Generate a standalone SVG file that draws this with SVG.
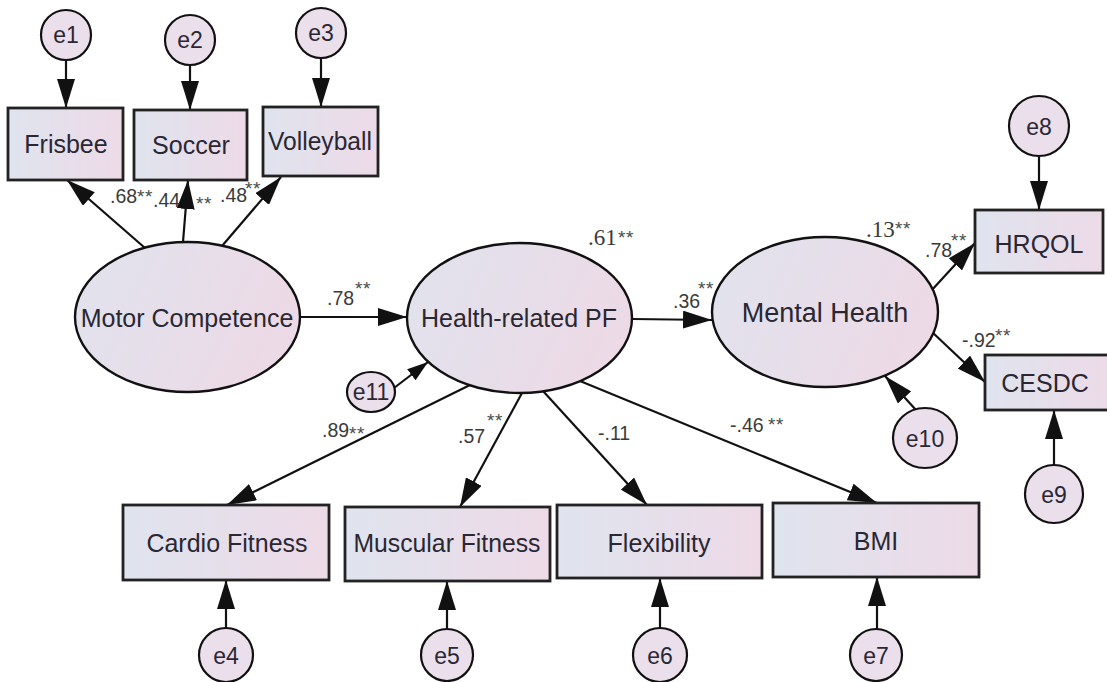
<svg xmlns="http://www.w3.org/2000/svg" width="1107" height="682" viewBox="0 0 1107 682">
<defs>
<linearGradient id="g" x1="0" y1="0" x2="1" y2="0">
<stop offset="0" stop-color="#dfe4ee"/>
<stop offset="1" stop-color="#eddae7"/>
</linearGradient>
<linearGradient id="ge" x1="0" y1="0" x2="1" y2="0.3">
<stop offset="0" stop-color="#e0e3ee"/>
<stop offset="1" stop-color="#ecdae6"/>
</linearGradient>
<marker id="ah" markerUnits="userSpaceOnUse" markerWidth="30" markerHeight="18" refX="29" refY="9" orient="auto">
<path d="M0,0 L29,9 L0,18 z" fill="#111"/>
</marker>
<marker id="ahs" markerUnits="userSpaceOnUse" markerWidth="22" markerHeight="14" refX="21" refY="7" orient="auto">
<path d="M0,0 L21,7 L0,14 z" fill="#111"/>
</marker>
<style>
.box{fill:url(#g);stroke:#222;stroke-width:2.8}
.ell{fill:url(#ge);stroke:#111;stroke-width:2.4}
.err{fill:#ebdfeb;stroke:#111;stroke-width:2.2}
.t{font-family:"Liberation Sans",Arial,sans-serif;font-size:25px;fill:#2a2733;text-anchor:middle}
.tb{font-family:"Liberation Sans",Arial,sans-serif;font-size:27px;fill:#2a2733;text-anchor:middle}
.te{font-family:"Liberation Sans",Arial,sans-serif;font-size:23px;fill:#2a2733;text-anchor:middle}
.c{font-family:"Liberation Sans",Arial,sans-serif;font-size:19.5px;fill:#3a3a3a}
.s{font-family:"Liberation Serif","Times New Roman",serif;font-size:23px;fill:#3a3a3a}
.st{font-family:"Liberation Sans",Arial,sans-serif;font-size:19px;fill:#4a4a4a;letter-spacing:0.5px}
.ln{stroke:#111;stroke-width:2.2;fill:none;marker-end:url(#ah)}
.lns{stroke:#111;stroke-width:2.2;fill:none;marker-end:url(#ahs)}
</style>
</defs>
<rect width="1107" height="682" fill="#fff"/>

<g id="connectors">
<line class="ln" x1="66" y1="60" x2="66" y2="108"/>
<line class="ln" x1="190" y1="65" x2="190" y2="110"/>
<line class="ln" x1="321" y1="58" x2="321" y2="107"/>
<line class="ln" x1="145" y1="248" x2="67" y2="180"/>
<line class="ln" x1="183" y1="242" x2="188" y2="180"/>
<line class="ln" x1="222" y1="246" x2="281" y2="177"/>
<line class="ln" x1="300" y1="317" x2="407" y2="317"/>
<line class="ln" x1="632" y1="319" x2="712" y2="320"/>
<line class="ln" x1="931" y1="291" x2="975" y2="243"/>
<line class="ln" x1="932" y1="332" x2="985" y2="382"/>
<line class="ln" x1="1039" y1="157" x2="1039" y2="210"/>
<line class="ln" x1="1054" y1="465" x2="1054" y2="410"/>
<line class="ln" x1="916" y1="410" x2="885" y2="376"/>
<line class="lns" x1="394" y1="388" x2="428" y2="362"/>
<line class="ln" x1="470" y1="385" x2="227" y2="505"/>
<line class="ln" x1="522" y1="393" x2="460" y2="507"/>
<line class="ln" x1="543" y1="391" x2="647" y2="505"/>
<line class="ln" x1="580" y1="381" x2="877" y2="503"/>
<line class="ln" x1="226" y1="628" x2="226" y2="580"/>
<line class="ln" x1="447" y1="628" x2="447" y2="581"/>
<line class="ln" x1="660" y1="628" x2="660" y2="578"/>
<line class="ln" x1="877" y1="629" x2="877" y2="577"/>
</g>

<g id="labels">
<text class="c" x="110" y="203">.68</text><text class="st" x="137" y="203">**</text>
<text class="c" x="153" y="207">.44</text><text class="st" x="196" y="210">**</text>
<text class="c" x="220" y="202">.48</text><text class="st" x="245" y="195">**</text>
<text class="c" x="327" y="305">.78</text><text class="st" x="355" y="295">**</text>
<text class="s" x="588" y="245">.61</text><text class="st" x="618" y="244">**</text>
<text class="c" x="673" y="308">.36</text><text class="st" x="698" y="295">**</text>
<text class="s" x="866" y="237">.13</text><text class="st" x="895" y="235">**</text>
<text class="c" x="925" y="257">.78</text><text class="st" x="951" y="247">**</text>
<text class="c" x="962" y="347">-.92</text><text class="st" x="995" y="342">**</text>
<text class="c" x="322" y="437">.89</text><text class="st" x="349" y="440">**</text>
<text class="c" x="458" y="443">.57</text><text class="st" x="487" y="427">**</text>
<text class="c" x="598" y="440">-.11</text>
<text class="c" x="730" y="432">-.46</text><text class="st" x="768" y="431">**</text>
</g>

<g id="e1"><circle class="err" cx="66" cy="35" r="25"/><text class="te" x="66" y="43">e1</text></g>
<g id="e2"><circle class="err" cx="190" cy="40" r="25"/><text class="te" x="190" y="48">e2</text></g>
<g id="e3"><circle class="err" cx="321" cy="33" r="25"/><text class="te" x="321" y="41">e3</text></g>
<g id="frisbee"><rect class="box" x="8" y="108" width="115" height="72"/><text class="t" x="66" y="153">Frisbee</text></g>
<g id="soccer"><rect class="box" x="134" y="110" width="113" height="70"/><text class="t" x="191" y="154">Soccer</text></g>
<g id="volleyball"><rect class="box" x="263" y="107" width="115" height="69"/><text class="t" x="320" y="150" textLength="104" lengthAdjust="spacingAndGlyphs">Volleyball</text></g>

<g id="motor"><ellipse class="ell" cx="187.5" cy="317" rx="112.5" ry="75"/><text class="t" x="187" y="327">Motor Competence</text></g>
<g id="hpf"><ellipse class="ell" cx="519.5" cy="318" rx="112.5" ry="75"/><text class="t" x="519" y="327">Health-related PF</text></g>
<g id="mental"><ellipse class="ell" cx="825" cy="312" rx="113" ry="75"/><text class="tb" x="825" y="322">Mental Health</text></g>
<g id="e11"><ellipse class="err" cx="371" cy="392" rx="24" ry="20"/><text class="te" x="371" y="400">e11</text></g>

<g id="e8"><circle class="err" cx="1039" cy="126" r="30"/><text class="te" x="1039" y="135">e8</text></g>
<g id="hrqol"><rect class="box" x="975" y="210" width="128" height="63"/><text class="t" x="1039" y="253">HRQOL</text></g>
<g id="cesdc"><rect class="box" x="985" y="355" width="130" height="55"/><text class="t" x="1045" y="392">CESDC</text></g>
<g id="e9"><circle class="err" cx="1054" cy="494" r="29"/><text class="te" x="1054" y="503">e9</text></g>
<g id="e10"><ellipse class="err" cx="925" cy="438" rx="32" ry="30"/><text class="te" x="925" y="447">e10</text></g>

<g id="cardio"><rect class="box" x="123" y="505" width="206" height="75"/><text class="t" x="227" y="552">Cardio Fitness</text></g>
<g id="muscular"><rect class="box" x="345" y="507" width="205" height="74"/><text class="t" x="447" y="552" textLength="187" lengthAdjust="spacingAndGlyphs">Muscular Fitness</text></g>
<g id="flexibility"><rect class="box" x="557" y="505" width="205" height="73"/><text class="t" x="659" y="552">Flexibility</text></g>
<g id="bmi"><rect class="box" x="773" y="503" width="206" height="74"/><text class="t" x="876" y="550">BMI</text></g>

<g id="e4"><circle class="err" cx="226" cy="655" r="27"/><text class="te" x="226" y="664">e4</text></g>
<g id="e5"><circle class="err" cx="447" cy="655" r="26"/><text class="te" x="447" y="664">e5</text></g>
<g id="e6"><circle class="err" cx="660" cy="655" r="27"/><text class="te" x="660" y="664">e6</text></g>
<g id="e7"><circle class="err" cx="876" cy="655" r="26"/><text class="te" x="876" y="664">e7</text></g>
</svg>
